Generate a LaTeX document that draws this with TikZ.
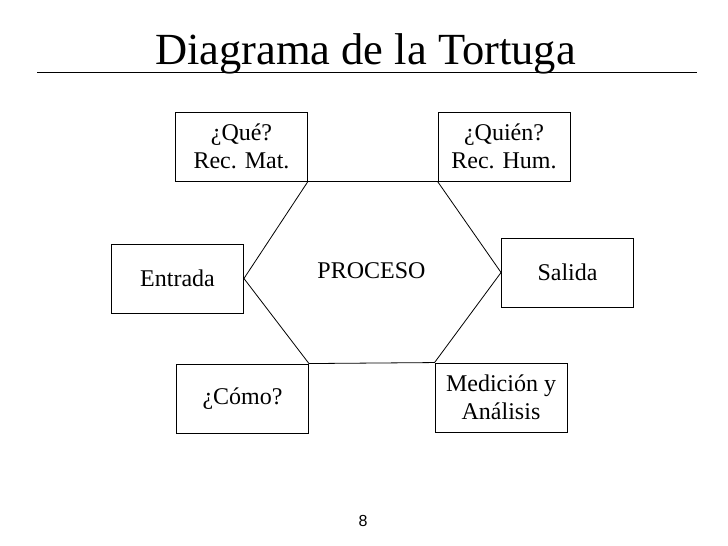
\documentclass[tikz,border=0pt]{standalone}
\usepackage{fontspec}
\setmainfont{Liberation Serif}
\newfontfamily\pagenumfont{Liberation Sans}
\usepackage{tikz}
\usetikzlibrary{positioning}
\tikzset{
  box/.style={draw=black, line width=0.9pt, align=center, inner sep=0pt,
    minimum width=132pt, minimum height=69pt, font=\fontsize{24}{28}\selectfont},
  edge/.style={line width=0.8pt},
}

\begin{document}
\begin{tikzpicture}[x=1pt, y=-1pt]
  \useasboundingbox (0,0) rectangle (728,546);
  \node[anchor=base, font=\fontsize{44.5}{50}\selectfont] (title) at (365.5,64) {Diagrama de la Tortuga};
  \draw[line width=0.9pt] (37,72) -- (697,72);
  \node[box] (que)      at (241.5,146.5) {¿Qué?\\Rec. Mat.};
  \node[box] (quien)    at (504,146.5)   {¿Quién?\\Rec. Hum.};
  \node[box] (entrada)  at (177.5,278.5) {Entrada};
  \node[box] (salida)   at (567.5,272.5) {Salida};
  \node[box] (como)     at (242.5,398.5) {¿Cómo?};
  \node[box] (medicion) at (501,397.5)   {Medición y\\Análisis};
  \node[font=\fontsize{24}{28}\selectfont] (proceso) at (371.5,271) {PROCESO};
  % hexagono del proceso
  \draw[edge] (que.south east) -- (quien.south west) -- (salida.west)
    -- (medicion.north west) -- (como.north east) -- (entrada.east) -- cycle;
  \node[font=\pagenumfont\fontsize{16}{18}\selectfont] (pagina) at (363,521) {8};
\end{tikzpicture}
\end{document}
